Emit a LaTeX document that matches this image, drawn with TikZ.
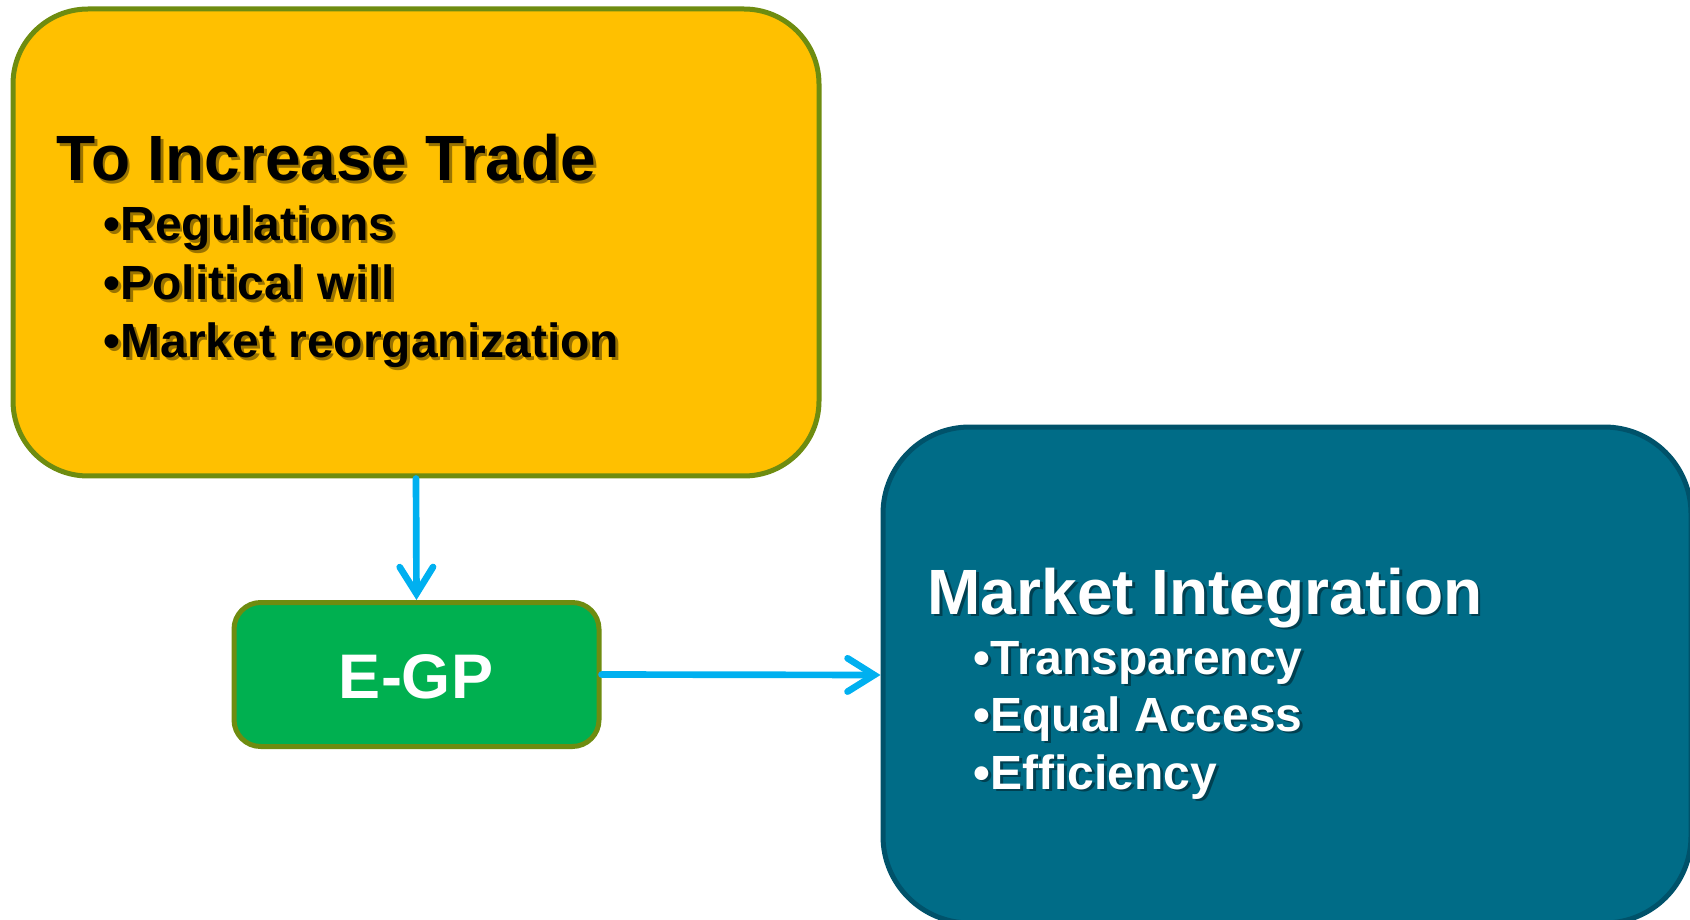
\documentclass[tikz,border=0pt]{standalone}
\usepackage{fontspec}
\setmainfont{Liberation Sans}
\usetikzlibrary{arrows.meta}
\definecolor{yel}{HTML}{FFC000}
\definecolor{olive}{HTML}{6E8C10}
\definecolor{grn}{HTML}{00B050}
\definecolor{teal}{HTML}{006C87}
\definecolor{tealdark}{HTML}{00526A}
\definecolor{arr}{HTML}{00B0F0}
\newcommand\shtxt[4]{%
  \node[#3, text=black, opacity=0.4, anchor=base west, xshift=0.8pt, yshift=-0.8pt] at (#1) {#4};
  \node[#3, anchor=base west] (#2) at (#1) {#4};}
\tikzset{
  box/.style={rectangle, line width=1.5pt, inner sep=0pt},
  title/.style={font=\fontsize{19.2}{22}\selectfont\bfseries, inner sep=0pt},
  bul/.style={font=\fontsize{14.4}{17}\selectfont\bfseries, inner sep=0pt},
  conn/.style={arr, line width=2pt, line cap=round, line join=round,
    -{Straight Barb[length=8pt, width=10pt, line cap=round]}},
}
\begin{document}
\begin{tikzpicture}[x=0.3pt, y=-0.3pt]
\useasboundingbox (0,0) rectangle (1690,920);
\clip (0,0) rectangle (1690,920);
% boxes
\node[box, draw=olive, fill=yel, rounded corners=22.5pt, minimum width=241.8pt, minimum height=140.1pt] (trade) at (416,242.5) {};
\node[box, draw=olive, fill=grn, rounded corners=8pt, minimum width=109.5pt, minimum height=43.2pt] (egp) at (416.5,674.5) {};
\node[box, draw=tealdark, fill=teal, rounded corners=26pt, minimum width=242.4pt, minimum height=148.8pt] (mi) at (1287,675) {};
% connectors
\draw[conn] (trade.south) -- (egp.north);
\draw[conn] (egp.east) -- (mi.west);
% texts in yellow box
\coordinate (t0) at (56,181);
\coordinate (t1) at (103,241);
\coordinate (t2) at (103,300);
\coordinate (t3) at (103,358);
\shtxt{t0}{tt}{title, text=black}{To Increase Trade}
\shtxt{t1}{tb1}{bul, text=black}{•Regulations}
\shtxt{t2}{tb2}{bul, text=black}{•Political will}
\shtxt{t3}{tb3}{bul, text=black}{•Market reorganization}
% E-GP
\node[title, text=white, font=\fontsize{18.9}{22}\selectfont\bfseries, anchor=base] (egpt) at (416,698) {E-GP};
% texts in teal box
\coordinate (m0) at (927,614);
\coordinate (m1) at (973,674);
\coordinate (m2) at (973,731);
\coordinate (m3) at (973,789);
\shtxt{m0}{mt}{title, text=white}{Market Integration}
\shtxt{m1}{mb1}{bul, text=white}{•Transparency}
\shtxt{m2}{mb2}{bul, text=white}{•Equal Access}
\shtxt{m3}{mb3}{bul, text=white}{•Efficiency}
\end{tikzpicture}
\end{document}
